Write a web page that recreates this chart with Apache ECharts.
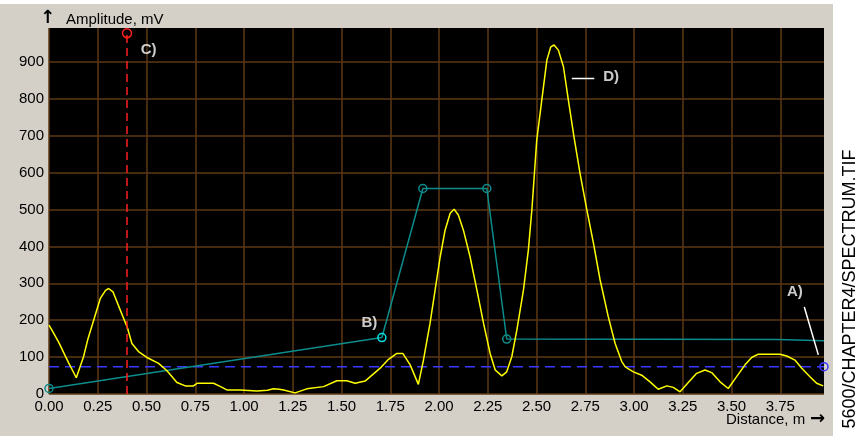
<!DOCTYPE html>
<html>
<head>
<meta charset="utf-8">
<script src="https://cdn.jsdelivr.net/npm/echarts@6.0.0/dist/echarts.min.js"></script>
<style>
  html, body { margin: 0; padding: 0; background: #fff; }
  #wrap { position: relative; width: 860px; height: 436px; overflow: hidden; }
  #panel { position: absolute; left: 0; top: 4px; width: 833px; height: 432px; background: #d4d0c8; }
  #chart { position: absolute; left: 0; top: 0; width: 860px; height: 436px; }
</style>
</head>
<body>
<div id="wrap"><div id="panel"></div><div id="chart"></div></div>
<script>
// Amplitude spectrum along the cable (yellow trace)
const specDist = [0.00, 0.015, 0.05, 0.10, 0.14, 0.177, 0.20, 0.229, 0.263, 0.29, 0.306, 0.328, 0.365, 0.403,
  0.425, 0.459, 0.502, 0.562, 0.605, 0.656, 0.699, 0.741, 0.759, 0.844, 0.88, 0.912, 0.98, 1.066, 1.12, 1.151,
  1.18, 1.203, 1.262, 1.322, 1.408, 1.476, 1.527, 1.570, 1.621, 1.698, 1.741, 1.784, 1.814, 1.852, 1.894, 1.92,
  1.954, 1.98, 2.006, 2.031, 2.057, 2.077, 2.099, 2.125, 2.159, 2.194, 2.228, 2.262, 2.288, 2.322, 2.347, 2.373,
  2.399, 2.433, 2.458, 2.476, 2.501, 2.527, 2.553, 2.573, 2.590, 2.612, 2.638, 2.663, 2.692, 2.723, 2.758, 2.792,
  2.826, 2.868, 2.903, 2.937, 2.954, 2.971, 2.997, 3.039, 3.082, 3.124, 3.168, 3.201, 3.236, 3.278, 3.321, 3.364,
  3.398, 3.441, 3.483, 3.526, 3.569, 3.603, 3.637, 3.748, 3.783, 3.825, 3.86, 3.902, 3.936, 3.970];
const specAmp = [187, 173, 140, 85, 44, 101, 150, 200, 259, 281, 286, 277, 228, 178,
  137, 115, 99, 83, 63, 31, 22, 22, 29, 29, 20, 11, 11, 8, 10, 14,
  13, 11, 3, 14, 20, 36, 36, 29, 35, 70, 94, 110, 110, 79, 26, 92,
  192, 282, 372, 444, 490, 501, 485, 444, 372, 282, 192, 110, 65, 49, 60, 101,
  173, 282, 390, 499, 688, 797, 905, 941, 946, 932, 887, 797, 697, 598, 499, 408,
  309, 209, 137, 88, 74, 68, 60, 51, 33, 13, 22, 18, 6, 31, 56, 65,
  58, 33, 15, 47, 79, 99, 108, 108, 103, 92, 70, 47, 29, 22];

// Detection envelope (teal polyline with editable nodes)
const envDist = [0.00, 1.707, 1.917, 2.245, 2.347, 3.74, 3.745, 3.974];
const envAmp  = [15, 153, 557, 557, 149, 148, 144, 144];
const envNodes = [true, true, true, true, true, false, false, false];
const envActiveNode = 1;

// Threshold level (blue dashed)
const thresholdDist = [0, 3.974];
const thresholdAmp = [74, 74];

// Cursor position (red dashed)
const cursorDist = [0.40, 0.40];
const cursorAmp = [0, 978];

// Axis ranges and tick steps
const xRange = [0, 3.974];
const yRange = [0, 992];
const xStep = 0.25;
const yStep = 100;

// Annotation labels and leader lines
const noteText = ['A)', 'B)', 'C)', 'D)'];
const noteDist = [3.825, 1.643, 0.511, 2.882];
const noteAmp  = [277, 192, 934, 859];
const leaderA = [[3.873, 236], [3.945, 106]];
const leaderD = [[2.681, 855], [2.796, 855]];

const zip = (xs, ys) => xs.map((x, i) => [x, ys[i]]);
const onStep = (v, step) => Math.abs(v / step - Math.round(v / step)) < 1e-6;

const chart = echarts.init(document.getElementById('chart'), null, { renderer: 'canvas' });

const gridColor = '#5c3814';
const teal = '#0c8c8c';

const envData = zip(envDist, envAmp).map((p, i) => {
  if (!envNodes[i]) return { value: p, symbol: 'none' };
  const c = i === envActiveNode ? '#00e4e4' : teal;
  return { value: p, symbol: 'circle', symbolSize: 8,
    itemStyle: { color: 'rgba(0,0,0,0)', borderColor: c, borderWidth: 1.5 } };
});

const option = {
  animation: false,
  backgroundColor: 'transparent',
  textStyle: { fontFamily: '"Liberation Sans", Arial, sans-serif' },
  grid: { left: 49, top: 28, width: 775, height: 366, show: true, backgroundColor: '#000', borderWidth: 0 },
  xAxis: {
    type: 'value', min: xRange[0], max: xRange[1], interval: xStep,
    axisLine: { show: false }, axisTick: { show: false },
    splitLine: { show: true, showMaxLine: false, lineStyle: { color: gridColor, width: 1.5 } },
    axisLabel: { color: '#000', fontSize: 15, margin: 5, showMaxLabel: false,
      formatter: v => onStep(v, xStep) ? v.toFixed(2) : '' }
  },
  yAxis: {
    type: 'value', min: yRange[0], max: yRange[1], interval: yStep,
    axisLine: { show: false }, axisTick: { show: false },
    splitLine: { show: true, showMaxLine: false, lineStyle: { color: gridColor, width: 1.5 } },
    axisLabel: { color: '#000', fontSize: 15, margin: 5, showMaxLabel: false,
      formatter: v => onStep(v, yStep) ? String(Math.round(v)) : '' }
  },
  series: [
    {
      name: 'threshold', type: 'line', z: 2,
      data: zip(thresholdDist, thresholdAmp).map((p, i) => i === 0 ? { value: p, symbol: 'none' } :
        { value: p, symbol: 'circle', symbolSize: 8,
          itemStyle: { color: 'rgba(0,0,0,0)', borderColor: '#3a3aff', borderWidth: 1.5 } }),
      lineStyle: { color: '#3a3aff', width: 1.5, type: [10, 6] }
    },
    {
      name: 'envelope', type: 'line', z: 3, data: envData,
      lineStyle: { color: teal, width: 1.5 }
    },
    {
      name: 'spectrum', type: 'line', z: 4, symbol: 'none',
      data: zip(specDist, specAmp),
      lineStyle: { color: '#ffff00', width: 1.5 }
    },
    {
      name: 'cursor', type: 'line', z: 5,
      data: zip(cursorDist, cursorAmp).map((p, i) => i === 0 ? { value: p, symbol: 'none' } :
        { value: p, symbol: 'circle', symbolSize: 9,
          itemStyle: { color: 'rgba(0,0,0,0)', borderColor: '#ff2020', borderWidth: 1.5 } }),
      lineStyle: { color: '#ff2020', width: 1.5, type: [8, 5] }
    },
    {
      name: 'leaderA', type: 'line', z: 6, symbol: 'none', data: leaderA,
      lineStyle: { color: '#ffffff', width: 1.5 }
    },
    {
      name: 'leaderD', type: 'line', z: 6, symbol: 'none', data: leaderD,
      lineStyle: { color: '#ffffff', width: 1.5 }
    },
    {
      name: 'notes', type: 'scatter', z: 7, symbolSize: 1,
      itemStyle: { color: 'rgba(0,0,0,0)' },
      data: noteText.map((t, i) => [noteDist[i], noteAmp[i], t]),
      label: { show: true, position: 'inside', color: '#fff', fontWeight: 'bold', fontSize: 15,
        formatter: p => p.value[2] }
    }
  ],
  graphic: [
    { type: 'text', left: 40, top: 9, style: { text: '\u2191', fill: '#000', font: 'bold 18px "DejaVu Sans", sans-serif' } },
    { type: 'text', left: 66, top: 12, style: { text: 'Amplitude, mV', fill: '#000', font: '15px "Liberation Sans", Arial, sans-serif' } },
    { type: 'text', left: 726, top: 412, style: { text: 'Distance, m', fill: '#000', font: '15px "Liberation Sans", Arial, sans-serif' } },
    { type: 'text', left: 810, top: 410, style: { text: '\u2192', fill: '#000', font: 'bold 18px "DejaVu Sans", sans-serif' } },
    { type: 'text', x: 850, y: 289, rotation: Math.PI / 2,
      style: { text: '5600/CHAPTER4/SPECTRUM.TIF', fill: '#000', font: '18px "Liberation Sans", Arial, sans-serif',
        align: 'center', verticalAlign: 'middle' } }
  ]
};

chart.setOption(option);
</script>
</body>
</html>
